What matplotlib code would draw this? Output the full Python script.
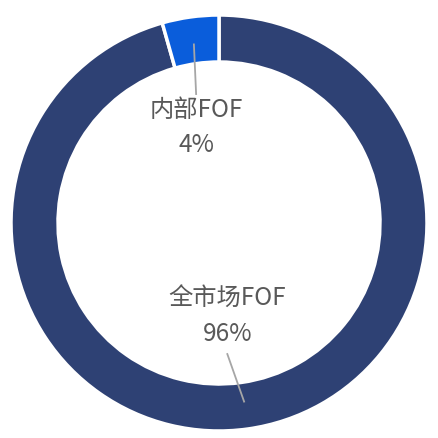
import numpy as np
import matplotlib
matplotlib.use("Agg")
import matplotlib.pyplot as plt

plt.rcParams['font.family'] = ['Noto Sans CJK SC', 'DejaVu Sans']

categories = ['全市场FOF', '内部FOF']
values = [95.6, 4.4]
colors = ['#2E4174', '#0A5DDB']

W = 438
fig = plt.figure(figsize=(4.38, 4.38), dpi=100)
ax = fig.add_axes([0, 0, 1, 1])
ax.set_xlim(0, W)
ax.set_ylim(0, W)
ax.set_aspect('equal')
ax.axis('off')

cx, cy, R = 219, 215, 208
width = 0.226 * R
wedges, _ = ax.pie(values, colors=colors, startangle=90, counterclock=False,
                   radius=R, center=(cx, cy),
                   wedgeprops=dict(width=width, edgecolor='white', linewidth=2.5))
ax.set_xlim(0, W)
ax.set_ylim(0, W)

total = sum(values)
# label positions (relative to centre, in units of R) and leader-line angles
label_pos = [(0.04, -0.45), (-0.11, 0.46)]
line_angle = [-82, 98]
line_end = [(0.04, -0.63), (-0.11, 0.62)]
for i, (cat, v) in enumerate(zip(categories, values)):
    lx, ly = label_pos[i]
    ax.text(cx + lx * R, cy + ly * R, f"{cat}\n{round(v / total * 100):d}%",
            ha='center', va='center', fontsize=17.5, color='#595959',
            linespacing=1.45)
    a = np.deg2rad(line_angle[i])
    r0 = R - width / 2 - 0.02 * R
    x0, y0 = cx + r0 * np.cos(a), cy + r0 * np.sin(a)
    ex, ey = line_end[i]
    ax.plot([x0, cx + ex * R], [y0, cy + ey * R], color='#A6A6A6', lw=1.3)

fig.savefig('out.png', dpi=100, facecolor='white')
